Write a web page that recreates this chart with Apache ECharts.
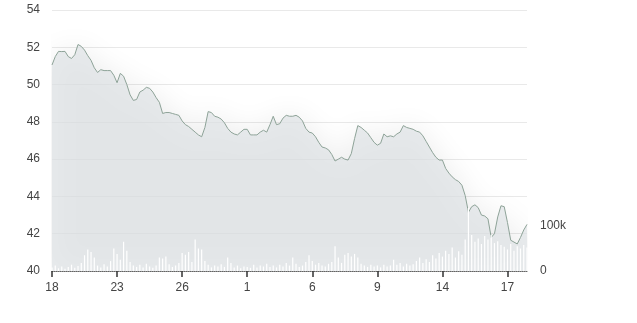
<!DOCTYPE html>
<html>
<head>
<meta charset="utf-8">
<script src="https://cdn.jsdelivr.net/npm/echarts@6/dist/echarts.min.js"></script>
<style>
html,body{margin:0;padding:0;background:#fff;}
#chart{width:637px;height:323px;}
</style>
</head>
<body>
<div id="chart"></div>
<script>
// Day labels shown every 20 samples
var dayLabels = ['18','23','26','1','6','9','14','17'];
var samplesPerLabel = 20;

// Price (intraday samples)
var price = [
51.05,51.5,51.78,51.77,51.78,51.5,51.4,51.6,52.15,52.05,
51.85,51.55,51.3,50.9,50.65,50.8,50.75,50.75,50.75,50.5,
50.1,50.6,50.45,50.0,49.45,49.15,49.2,49.6,49.7,49.85,
49.8,49.6,49.3,49.05,48.45,48.5,48.5,48.45,48.4,48.35,
48.05,47.85,47.75,47.6,47.45,47.3,47.2,47.7,48.55,48.5,
48.3,48.25,48.15,47.95,47.65,47.45,47.35,47.3,47.45,47.6,
47.6,47.3,47.3,47.3,47.45,47.55,47.45,47.85,48.3,47.85,
47.9,48.2,48.35,48.3,48.3,48.35,48.25,48.05,47.65,47.45,
47.4,47.2,46.9,46.65,46.6,46.5,46.25,45.9,46.0,46.1,
46.0,45.95,46.3,47.1,47.8,47.7,47.55,47.4,47.15,46.9,
46.75,46.85,47.35,47.2,47.25,47.2,47.35,47.45,47.8,47.7,
47.65,47.6,47.5,47.45,47.25,46.95,46.65,46.35,46.1,45.95,
45.95,45.5,45.25,45.05,44.9,44.8,44.6,44.05,43.15,43.45,
43.55,43.4,43.0,42.95,42.8,41.8,42.0,42.9,43.5,43.45,
42.6,41.65,41.55,41.45,41.8,42.2,42.5
];

// Volume (thousands)
var volumeK = [
8,12,6,10,5,9,14,7,11,18,
35,48,42,30,12,8,15,10,22,50,
38,25,65,45,20,12,9,14,8,16,
10,7,12,30,28,32,15,9,12,18,
40,36,42,20,70,50,48,22,14,8,
12,10,15,9,30,18,8,12,6,10,
9,7,14,8,12,10,16,9,12,8,
14,10,18,12,30,16,9,12,20,35,
22,14,18,12,10,16,20,55,30,18,
36,40,32,38,30,16,12,9,14,10,
12,8,14,10,12,25,14,18,10,16,
12,15,22,30,18,26,20,35,28,40,
32,45,38,52,30,44,36,70,140,80,
65,72,60,78,70,80,62,66,58,54,
48,60,45,55,50,58,52
];

var categories = price.map(function (_, i) {
  return dayLabels[Math.floor(i / samplesPerLabel)] + '#' + (i % samplesPerLabel);
});
var volume = volumeK.map(function (v) { return v * 1000; });

var chart = echarts.init(document.getElementById('chart'), null, {renderer: 'canvas'});
chart.setOption({
  animation: false,
  backgroundColor: '#ffffff',
  grid: {left: 52, right: 110, top: 10, bottom: 52},
  xAxis: {
    type: 'category',
    data: categories,
    boundaryGap: false,
    axisLine: {show: true, lineStyle: {color: '#666', type: 'dotted', width: 1}},
    axisTick: {
      show: true,
      length: 6,
      lineStyle: {color: '#333', width: 1.5},
      interval: function (idx) { return idx % samplesPerLabel === 0; }
    },
    axisLabel: {
      interval: function (idx) { return idx % samplesPerLabel === 0; },
      formatter: function (v) { return v.split('#')[0]; },
      color: '#444',
      fontSize: 12,
      fontFamily: 'Liberation Sans, Arial, sans-serif',
      margin: 11
    },
    splitLine: {show: false}
  },
  yAxis: [
    {
      type: 'value',
      min: 40, max: 54, interval: 2,
      axisLine: {show: false},
      axisTick: {show: false},
      axisLabel: {color: '#444', fontSize: 12, fontFamily: 'Liberation Sans, Arial, sans-serif', margin: 12},
      splitLine: {show: true, lineStyle: {color: '#e9e9e9', width: 1}}
    },
    {
      type: 'value',
      min: 0, max: 580000, interval: 100000,
      position: 'right',
      axisLine: {show: false},
      axisTick: {show: false},
      splitLine: {show: false},
      axisLabel: {
        color: '#444', fontSize: 12, fontFamily: 'Liberation Sans, Arial, sans-serif', margin: 13,
        formatter: function (v) { return v === 0 ? '0' : (v === 100000 ? '100k' : ''); }
      }
    }
  ],
  series: [
    {
      type: 'line',
      data: price,
      symbol: 'none',
      z: 2,
      lineStyle: {color: '#8ea398', width: 1},
      areaStyle: {
        color: '#dee3e6',
        origin: 'start',
        shadowColor: 'rgba(0,0,0,0.11)',
        shadowBlur: 30
      }
    },
    {
      type: 'bar',
      yAxisIndex: 1,
      data: volume,
      barWidth: 1.2,
      z: 3,
      itemStyle: {color: '#ffffff'}
    }
  ]
});
</script>
</body>
</html>
